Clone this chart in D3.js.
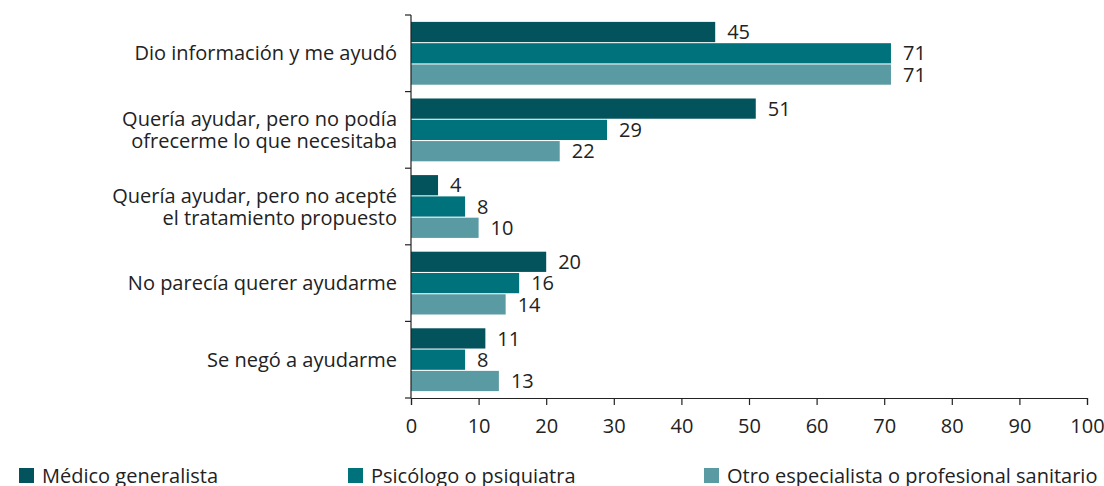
<!DOCTYPE html>
<html>
<head>
<meta charset="utf-8">
<script src="https://cdn.jsdelivr.net/npm/d3@7"></script>
<style>
  body { margin: 0; background: #fff; }
  text { font-family: "Open Sans", sans-serif; fill: #222; }
</style>
</head>
<body>
<div id="chart"></div>
<script>
// Data
var categories = [
    ['Dio información y me ayudó'],
    ['Quería ayudar, pero no podía', 'ofrecerme lo que necesitaba'],
    ['Quería ayudar, pero no acepté', 'el tratamiento propuesto'],
    ['No parecía querer ayudarme'],
    ['Se negó a ayudarme']
];
var series      = [ 'Médico generalista', 'Psicólogo o psiquiatra', 'Otro especialista o profesional sanitario' ];
var medico      = [ 45, 51, 4, 20, 11 ];
var psicologo   = [ 71, 29, 8, 16, 8 ];
var otro        = [ 71, 22, 10, 14, 13 ];
var x_ticks     = [ 0, 10, 20, 30, 40, 50, 60, 70, 80, 90, 100 ];
var colors      = [ '#02535c', '#00727b', '#5a9aa3' ];

var chart_width  = 1104;
var chart_height = 486;
var font_size    = 20;
var values = [ medico, psicologo, otro ];

var svg = d3.select('#chart')
    .append('svg')
    .attr('width', chart_width)
    .attr('height', chart_height);

// scales
var x = d3.scaleLinear().domain([0, 100]).range([411, 1087]);
var y = d3.scaleBand().domain(d3.range(categories.length)).range([15, 398]).paddingInner(0.18).paddingOuter(0.09);
var y_inner = d3.scaleBand().domain(d3.range(series.length)).range([0, y.bandwidth()]).paddingInner(0.05);

// bars
var groups = svg.selectAll('g.group')
    .data(categories)
    .enter()
    .append('g')
    .attr('class', 'group')
    .attr('transform', function(d, i){ return 'translate(0,' + y(i) + ')'; });

groups.each(function(d, i){
    var g = d3.select(this);
    var row = values.map(function(s){ return s[i]; });
    g.selectAll('rect')
        .data(row)
        .enter()
        .append('rect')
        .attr('x', x(0))
        .attr('y', function(v, j){ return y_inner(j); })
        .attr('width', function(v){ return x(v) - x(0); })
        .attr('height', y_inner.bandwidth())
        .attr('fill', function(v, j){ return colors[j]; });
    g.selectAll('text.val')
        .data(row)
        .enter()
        .append('text')
        .attr('class', 'val')
        .attr('x', function(v){ return x(v) + 12; })
        .attr('y', function(v, j){ return y_inner(j) + y_inner.bandwidth() / 2; })
        .attr('dy', '0.36em')
        .attr('font-size', font_size)
        .text(function(v){ return v; });
    // category label
    var lab = g.append('text')
        .attr('text-anchor', 'end')
        .attr('font-size', font_size)
        .attr('y', y.bandwidth() / 2);
    var n = d.length;
    d.forEach(function(line, k){
        lab.append('tspan')
            .attr('x', 397)
            .attr('dy', k === 0 ? ((-(n - 1) * 0.55 + 0.36) + 'em') : '1.1em')
            .text(line);
    });
});

// y axis line with group ticks
var boundaries = d3.range(categories.length + 1).map(function(i){ return 15 + i * (383 / categories.length); });
svg.append('line')
    .attr('x1', x(0)).attr('x2', x(0))
    .attr('y1', 15).attr('y2', 398)
    .attr('stroke', '#222').attr('stroke-width', 1.2);
svg.selectAll('line.ytick')
    .data(boundaries)
    .enter()
    .append('line')
    .attr('class', 'ytick')
    .attr('x1', x(0) - 6).attr('x2', x(0))
    .attr('y1', function(d){ return d; }).attr('y2', function(d){ return d; })
    .attr('stroke', '#222').attr('stroke-width', 1.2);

// x axis
var x_axis = d3.axisBottom(x).tickValues(x_ticks).tickSize(7).tickPadding(14);
var xg = svg.append('g')
    .attr('transform', 'translate(0,398)')
    .call(x_axis);
xg.select('.domain').attr('stroke', '#222').attr('stroke-width', 1.2);
xg.selectAll('.tick line').attr('stroke', '#222').attr('stroke-width', 1.2);
xg.selectAll('.tick text').attr('font-size', font_size).attr('font-family', '"Open Sans", sans-serif').attr('fill', '#222');

// legend
var legend_x = [ 19, 348, 704 ];
var legend = svg.selectAll('g.legend')
    .data(series)
    .enter()
    .append('g')
    .attr('class', 'legend')
    .attr('transform', function(d, i){ return 'translate(' + legend_x[i] + ',468)'; });
legend.append('rect')
    .attr('width', 15).attr('height', 15)
    .attr('fill', function(d, i){ return colors[i]; });
legend.append('text')
    .attr('x', 23).attr('y', 8)
    .attr('dy', '0.36em')
    .attr('font-size', font_size)
    .text(function(d){ return d; });
</script>
</body>
</html>
